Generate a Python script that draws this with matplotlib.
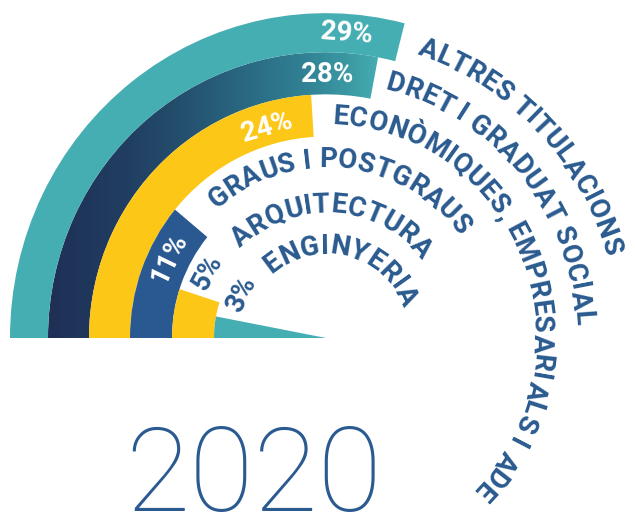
import numpy as np
import matplotlib
matplotlib.use("Agg")
import matplotlib.pyplot as plt
from matplotlib import font_manager, ft2font
from matplotlib.colors import LinearSegmentedColormap

# ---- data -------------------------------------------------------------
categories = [
    "ALTRES TITULACIONS",
    "DRET I GRADUAT SOCIAL",
    "ECONÒMIQUES, EMPRESARIALS I ADE",
    "GRAUS I POSTGRAUS",
    "ARQUITECTURA",
    "ENGINYERIA",
]
shares = [29, 28, 24, 11, 5, 3]
share_labels = ["29%", "28%", "24%", "11%", "5%", "3%"]
year = "2020"

# ---- layout / style ---------------------------------------------------
W, H, DPI = 635, 513, 100
CX, CY = 326, 338          # centre of the rings, pixels from top-left
SX, SY = 1.0, 1.028        # pixels per radial unit (horizontal / vertical)
RMAX = 330

ring_edges = [316, 278, 237, 196, 154, 112, 0]
bar_colors = ["#45aeb3", "gradient", "#fcc716", "#2a5890", "#fcc716", "#45aeb3"]
TEXT_BLUE = "#2a5a8f"

# category label placement: angle (deg, clockwise from the left) of the
# first character and radius of the text line centre
cat_theta = [110.0, 105.7, 94.0, 52.0, 49.8, 54.0]
cat_r = [300, 259, 218, 176, 132, 92]

# percentage label placement
pct_theta = [94.0, 90.2, 74.0, 26.4, 28.5, 27.0]
pct_r = [300, 259, 216, 177, 137, 97]
pct_colors = ["white", "white", "white", "white", TEXT_BLUE, TEXT_BLUE]

LABEL_PT = 20
PX_PER_PT = DPI / 72.0
CAP = 0.711 * LABEL_PT * PX_PER_PT

fig = plt.figure(figsize=(W / DPI, H / DPI), dpi=DPI)
fig.patch.set_facecolor("white")

# pixel-space overlay (gradient fill + year)
ov = fig.add_axes([0, 0, 1, 1])
ov.set_zorder(0)
ov.axis("off")

# polar axes for the radial bars
ax = fig.add_axes(
    [(CX - RMAX * SX) / W, (H - CY - RMAX * SY) / H,
     2 * RMAX * SX / W, 2 * RMAX * SY / H],
    projection="polar",
)
ax.set_aspect("auto")
ax.set_zorder(1)
ax.set_theta_zero_location("W")
ax.set_theta_direction(-1)
ax.set_ylim(0, RMAX)
ax.axis("off")
ax.patch.set_visible(False)

bar_patches = []
for i, v in enumerate(shares):
    r_out, r_in = ring_edges[i], ring_edges[i + 1]
    fc = "none" if bar_colors[i] == "gradient" else bar_colors[i]
    cont = ax.bar(0, r_out - r_in, width=v / 100 * 2 * np.pi, bottom=r_in,
                  align="edge", color=fc, linewidth=0)
    bar_patches.append(cont.patches[0])

# horizontal navy-to-teal gradient for the second ring
stops = [(0, "#1f2f56"), (45, "#1f2f56"), (130, "#213f62"), (180, "#244f6d"),
         (250, "#2a6b83"), (300, "#317f93"), (350, "#3b9aa4"), (380, "#46aeb3"),
         (W, "#46aeb3")]
cmap = LinearSegmentedColormap.from_list("navy_teal", [(p / W, c) for p, c in stops])
grad = np.linspace(0, 1, W).reshape(1, -1)
im = ov.imshow(grad, cmap=cmap, extent=(0, W, H, 0), aspect="auto",
               interpolation="bilinear")
navy = bar_patches[1]
im.set_clip_path(navy.get_path(), navy.get_transform())
ov.set_xlim(0, W)
ov.set_ylim(H, 0)

# ---- text helpers -----------------------------------------------------
label_fp = font_manager.FontProperties(family="Roboto", weight="bold", size=LABEL_PT)
ftfont = ft2font.FT2Font(font_manager.findfont(label_fp))
ftfont.set_size(LABEL_PT, DPI)
_kern = getattr(ft2font, "Kerning", None)
KMODE = _kern.DEFAULT if _kern is not None else ft2font.KERNING_DEFAULT


def char_centres(s):
    """Centre of each glyph along the baseline, in pixels."""
    idx = [ftfont.get_char_index(ord(c)) for c in s]
    pos, x = [], 0.0
    for k, c in enumerate(s):
        g = ftfont.load_char(ord(c))
        adv = g.linearHoriAdvance / 65536.0
        pos.append(x + adv / 2)
        x += adv
        if k + 1 < len(s):
            x += ftfont.get_kerning(idx[k], idx[k + 1], KMODE) / 64.0
    return np.array(pos)


def tangent_deg(th):
    return np.degrees(np.arctan2(SY * np.cos(th), SX * np.sin(th)))


def arc_text(s, theta_first_deg, r_mid, color):
    pos = char_centres(s)
    r_base = r_mid - CAP / 2
    for c, p in zip(s, pos):
        if c == " ":
            continue
        th = np.radians(theta_first_deg) + (p - pos[0]) / r_base
        ax.text(th, r_base, c, rotation=tangent_deg(th), rotation_mode="anchor",
                ha="center", va="baseline", fontproperties=label_fp, color=color)


for s, th, r in zip(categories, cat_theta, cat_r):
    arc_text(s, th, r, TEXT_BLUE)

for s, th, r, col in zip(share_labels, pct_theta, pct_r, pct_colors):
    t = np.radians(th)
    ax.text(t, r - CAP / 2, s, rotation=tangent_deg(t), rotation_mode="anchor",
            ha="center", va="baseline", fontproperties=label_fp, color=col)

ov.text(253.5, 511.5, year, family="Roboto", weight="light", fontsize=84.5,
        color="#2b5a91", ha="center", va="baseline")

fig.savefig("out.png", dpi=DPI, facecolor="white")
